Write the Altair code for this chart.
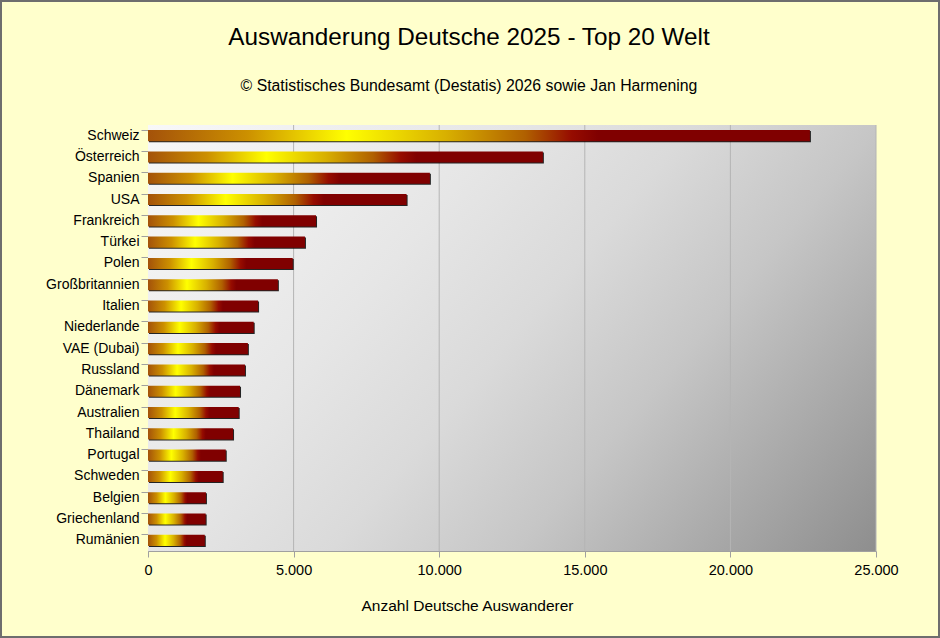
import altair as alt
import pandas as pd

countries = ["Schweiz", "Österreich", "Spanien", "USA", "Frankreich", "Türkei", "Polen",
             "Großbritannien", "Italien", "Niederlande", "VAE (Dubai)", "Russland", "Dänemark",
             "Australien", "Thailand", "Portugal", "Schweden", "Belgien", "Griechenland", "Rumänien"]
values = [22730, 13560, 9680, 8880, 5770, 5390, 4970, 4460, 3780, 3630, 3430, 3330, 3160,
          3115, 2920, 2670, 2565, 1990, 1980, 1950]
grid_ticks = [5000, 10000, 15000, 20000, 25000]
title_text = ["Auswanderung Deutsche 2025 - Top 20 Welt"]
subtitle_text = ["© Statistisches Bundesamt (Destatis) 2026 sowie Jan Harmening"]

df = pd.DataFrame({"Land": countries, "Anzahl": values})
grid_df = pd.DataFrame({"t": grid_ticks})

W, H = 728, 426
FONT = "Liberation Sans"

bar_grad = alt.LinearGradient(
    gradient="linear", x1=0, y1=0, x2=1, y2=0,
    stops=[
        alt.GradientStop(color="#A4520A", offset=0),
        alt.GradientStop(color="#CC9000", offset=0.15),
        alt.GradientStop(color="#FFFF00", offset=0.30),
        alt.GradientStop(color="#D8B000", offset=0.45),
        alt.GradientStop(color="#B06000", offset=0.57),
        alt.GradientStop(color="#960C00", offset=0.64),
        alt.GradientStop(color="#800000", offset=0.68),
        alt.GradientStop(color="#800000", offset=1),
    ],
)
bg_grad = alt.LinearGradient(
    gradient="linear", x1=0, y1=0, x2=1.2, y2=0.6,
    stops=[
        alt.GradientStop(color="#F8F8F8", offset=0),
        alt.GradientStop(color="#E6E6E6", offset=0.33),
        alt.GradientStop(color="#DADADA", offset=0.5),
        alt.GradientStop(color="#C6C6C6", offset=0.67),
        alt.GradientStop(color="#8E8E8E", offset=1),
    ],
)

xscale = alt.Scale(domain=[0, 25000], nice=False)
yscale = alt.Scale(domain=countries, paddingInner=0.48, paddingOuter=0.24)

bg = alt.Chart(df).mark_rect(fill=bg_grad).encode(
    x=alt.value(0), x2=alt.value(W), y=alt.value(0), y2=alt.value(H)
)

grid = alt.Chart(grid_df).mark_rule(color="#B4B4B4", strokeWidth=1).encode(
    x=alt.X("t:Q", scale=xscale)
)

shadow = alt.Chart(df).mark_bar(fill="#000000", xOffset=1, yOffset=1, opacity=0.85).encode(
    x=alt.X("Anzahl:Q", scale=xscale),
    y=alt.Y("Land:N", scale=yscale, sort=countries),
)

bars = alt.Chart(df).mark_bar(fill=bar_grad).encode(
    x=alt.X(
        "Anzahl:Q", scale=xscale,
        axis=alt.Axis(
            values=[0] + grid_ticks, grid=False,
            labelExpr="replace(format(datum.value, ','), ',', '.')",
            title="Anzahl Deutsche Auswanderer",
            titleX=319, titleY=54, titleBaseline="middle", titleAnchor="start", titleAlign="center",
            labelFontSize=14.5, labelPadding=6, tickSize=6, labelFlush=False,
            titleFontSize=15.5, titleFontWeight="normal",
        ),
    ),
    y=alt.Y(
        "Land:N", scale=yscale, sort=countries,
        axis=alt.Axis(
            title=None, labelFontSize=14, tickSize=7, labelPadding=2,
            bandPosition=0,
        ),
    ),
)

title = alt.Chart(pd.DataFrame({"t": title_text})).mark_text(
    font=FONT, fontSize=24.3, color="#000000", align="center", baseline="middle"
).encode(text="t:N", x=alt.value(321), y=alt.value(-87))

subtitle = alt.Chart(pd.DataFrame({"t": subtitle_text})).mark_text(
    font=FONT, fontSize=15.8, color="#000000", align="center", baseline="middle"
).encode(text="t:N", x=alt.value(321), y=alt.value(-39))

frame = alt.Chart(df).mark_rect(fillOpacity=0, stroke="#6E6E6E", strokeWidth=2).encode(
    x=alt.value(-147), x2=alt.value(791), y=alt.value(-124), y2=alt.value(512)
)

chart = alt.layer(bg, grid, shadow, bars, title, subtitle, frame).properties(
    width=W, height=H,
    padding={"left": 148, "top": 125, "right": 64, "bottom": 87},
    autosize=alt.AutoSizeParams(type="none"),
    background="#FFFFCC",
).configure_view(stroke=None).configure_axis(
    labelFont=FONT, titleFont=FONT, labelColor="#000000", titleColor="#000000",
    domainColor="#A0A0A0", tickColor="#A0A0A0",
)

chart.save("out.html", embed_options={"renderer": "svg", "actions": False})
